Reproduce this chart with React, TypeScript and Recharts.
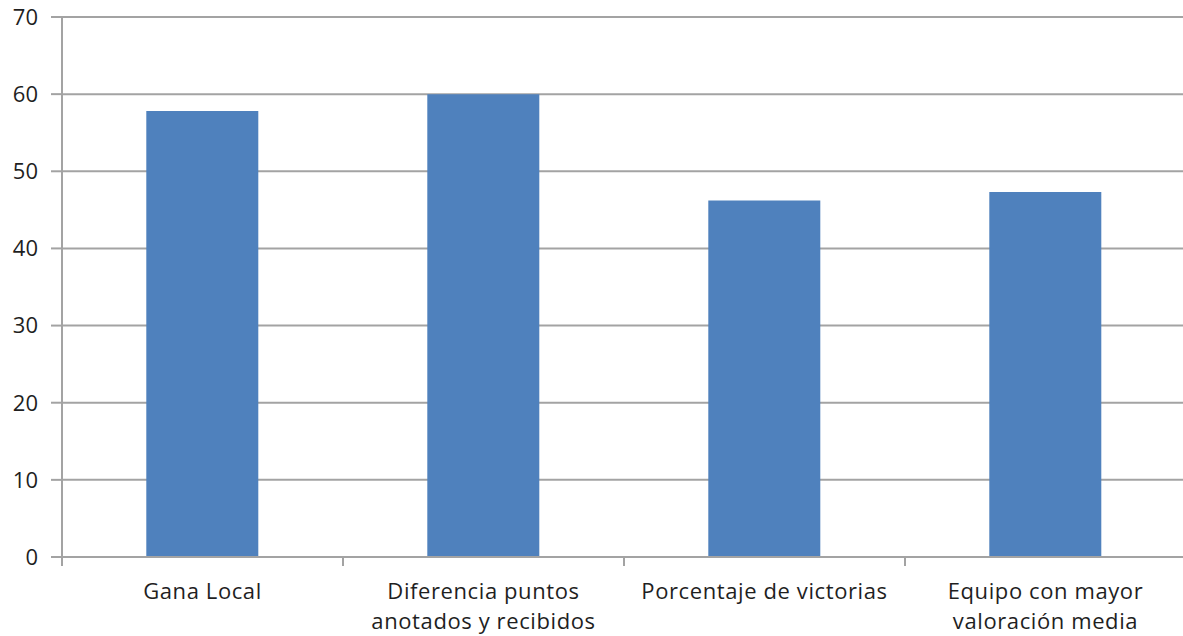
import React from 'react';
import { BarChart, Bar, XAxis, YAxis, CartesianGrid } from 'recharts';

// Category names and their two-line tick captions
const categories = [
  'Gana Local',
  'Diferencia puntos anotados y recibidos',
  'Porcentaje de victorias',
  'Equipo con mayor valoración media',
];
const tickLines: string[][] = [
  ['Gana Local'],
  ['Diferencia puntos', 'anotados y recibidos'],
  ['Porcentaje de victorias'],
  ['Equipo con mayor', 'valoración media'],
];
const values = [57.8, 60.0, 46.2, 47.3];
const yTicks = [0, 10, 20, 30, 40, 50, 60, 70];

const data = categories.map((name, i) => ({ name, value: values[i] }));

const FONT = '"Open Sans", sans-serif';
const AXIS_GRAY = '#a3a3a3';
const TEXT = '#1f1f1f';

// Category tick: label lines centred under the bar plus tick marks on band edges
const CategoryTick = (props: any) => {
  const { x, y, payload, index } = props;
  const half = payload && typeof payload.offset === 'number' && payload.offset > 0 ? payload.offset : 140.5;
  const lines = tickLines[index] || [String(payload.value)];
  const axisY = y - 8;
  return (
    <g>
      <line x1={x - half} y1={axisY} x2={x - half} y2={axisY + 9} stroke={AXIS_GRAY} strokeWidth={2} />
      {index === categories.length - 1 && (
        <line x1={x + half} y1={axisY} x2={x + half} y2={axisY + 9} stroke={AXIS_GRAY} strokeWidth={2} />
      )}
      <text
        x={x}
        y={axisY + 42}
        textAnchor="middle"
        fill={TEXT}
        fontFamily={FONT}
        fontSize={22}
        letterSpacing={0.6}
      >
        {lines.map((t, i) => (
          <tspan key={i} x={x} dy={i === 0 ? 0 : 30}>
            {t}
          </tspan>
        ))}
      </text>
    </g>
  );
};

export default function App() {
  return (
    <div
      style={{
        position: 'fixed',
        left: 0,
        top: 0,
        width: 1183,
        height: 636,
        overflow: 'hidden',
        background: '#ffffff',
      }}
    >
      <BarChart
        width={1186}
        height={636}
        data={data}
        margin={{ top: 17, right: 0, bottom: 0, left: 0 }}
        barCategoryGap="30%"
      >
        <CartesianGrid vertical={false} stroke={AXIS_GRAY} strokeWidth={2} />
        <XAxis
          dataKey="name"
          height={79}
          axisLine={{ stroke: AXIS_GRAY, strokeWidth: 2 }}
          tickLine={false}
          interval={0}
          tick={<CategoryTick />}
        />
        <YAxis
          width={62}
          domain={[0, 70]}
          ticks={yTicks}
          interval={0}
          axisLine={{ stroke: AXIS_GRAY, strokeWidth: 2 }}
          tickLine={{ stroke: AXIS_GRAY, strokeWidth: 2 }}
          tickSize={11}
          tickMargin={13}
          tick={{ fill: TEXT, fontFamily: FONT, fontSize: 22 }}
        />
        <Bar dataKey="value" fill="#4f81bd" isAnimationActive={false} />
      </BarChart>
    </div>
  );
}
